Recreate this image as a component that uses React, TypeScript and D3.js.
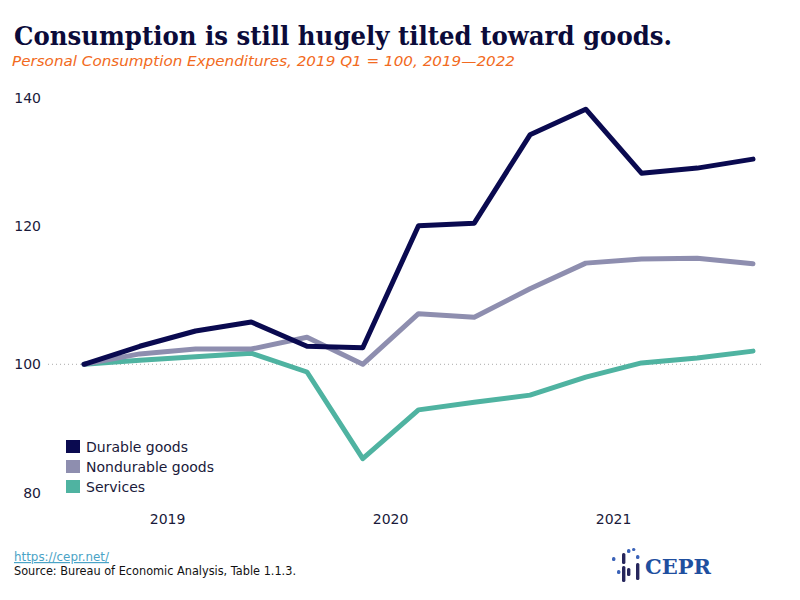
import * as d3 from 'd3'
import React, { useEffect, useRef } from 'react'

const quarters = [
  '2019 Q1', '2019 Q2', '2019 Q3', '2019 Q4',
  '2020 Q1', '2020 Q2', '2020 Q3', '2020 Q4',
  '2021 Q1', '2021 Q2', '2021 Q3', '2021 Q4',
  '2022 Q1',
]
const durable = [100, 102.6, 104.8, 106.1, 102.6, 102.4, 120.0, 120.4, 134.2, 138.2, 128.2, 129.0, 130.4]
const nondurable = [100, 101.5, 102.2, 102.2, 103.9, 100, 107.3, 106.8, 110.9, 114.6, 115.2, 115.3, 114.5]
const services = [100, 100.6, 101.1, 101.6, 98.8, 85.3, 92.9, 94.1, 95.2, 98.0, 100.2, 100.9, 101.9]
const seriesNames = ['Durable goods', 'Nondurable goods', 'Services']
const yTicks = [80, 100, 120, 140]
const years = ['2019', '2020', '2021']

const colors = ['#0a0a50', '#8e8eaf', '#4fb3a1']
const axisFont = 'DejaVu Sans, Verdana, sans-serif'

export default function App() {
  const ref = useRef<SVGSVGElement>(null)

  useEffect(() => {
    if (!ref.current) return
    const svg = d3.select(ref.current)
    svg.selectAll('*').remove()

    const x = d3.scaleLinear().domain([0, quarters.length - 1]).range([84, 753])
    // the value axis is drawn with slightly uneven gaps between its labels
    const y = d3.scaleLinear().domain([80, 100, 120, 140]).range([492.7, 364.3, 225.7, 97.7])

    // title block
    svg.append('text')
      .attr('x', 14).attr('y', 45)
      .attr('font-family', 'DejaVu Serif, Georgia, serif')
      .attr('font-weight', 'bold')
      .attr('font-size', 26)
      .attr('fill', '#0b0b3a')
      .attr('textLength', 658)
      .attr('lengthAdjust', 'spacingAndGlyphs')
      .text('Consumption is still hugely tilted toward goods.')

    svg.append('text')
      .attr('x', 12).attr('y', 66)
      .attr('font-family', axisFont)
      .attr('font-style', 'italic')
      .attr('font-size', 14)
      .attr('fill', '#f26a21')
      .attr('textLength', 503)
      .attr('lengthAdjust', 'spacingAndGlyphs')
      .text('Personal Consumption Expenditures, 2019 Q1 = 100, 2019\u20142022')

    // y labels
    svg.append('g')
      .selectAll('text')
      .data(yTicks)
      .join('text')
      .attr('x', 41)
      .attr('y', d => y(d))
      .attr('dy', '0.36em')
      .attr('text-anchor', 'end')
      .attr('font-family', axisFont)
      .attr('font-size', 14)
      .attr('fill', '#1a1a3a')
      .text(d => d)

    // baseline at 100
    svg.append('line')
      .attr('x1', 48).attr('x2', 762)
      .attr('y1', y(100)).attr('y2', y(100))
      .attr('stroke', '#aaaaaa')
      .attr('stroke-width', 1)
      .attr('stroke-dasharray', '1,3')

    // year labels centred on each year's quarters
    svg.append('g')
      .selectAll('text')
      .data(years)
      .join('text')
      .attr('x', (d, i) => x(i * 4 + 1.5))
      .attr('y', 524)
      .attr('text-anchor', 'middle')
      .attr('font-family', axisFont)
      .attr('font-size', 14)
      .attr('fill', '#1a1a3a')
      .text(d => d)

    const line = d3.line<number>()
      .x((d, i) => x(i))
      .y(d => y(d))

    const all = [services, nondurable, durable]
    const allColors = [colors[2], colors[1], colors[0]]
    svg.append('g')
      .selectAll('path')
      .data(all)
      .join('path')
      .attr('d', d => line(d))
      .attr('fill', 'none')
      .attr('stroke', (d, i) => allColors[i])
      .attr('stroke-width', 5)
      .attr('stroke-linejoin', 'round')
      .attr('stroke-linecap', 'round')

    // legend
    const legend = svg.append('g')
      .selectAll('g')
      .data(seriesNames)
      .join('g')
      .attr('transform', (d, i) => `translate(66,${440 + i * 20})`)
    legend.append('rect')
      .attr('width', 14).attr('height', 13)
      .attr('fill', (d, i) => colors[i])
    legend.append('text')
      .attr('x', 20).attr('y', 12)
      .attr('font-family', axisFont)
      .attr('font-size', 14)
      .attr('fill', '#1a1a3a')
      .text(d => d)

    // footer
    svg.append('text')
      .attr('x', 14).attr('y', 561)
      .attr('font-family', axisFont)
      .attr('font-size', 12)
      .attr('fill', '#4aa3c6')
      .attr('text-decoration', 'underline')
      .attr('textLength', 95)
      .attr('lengthAdjust', 'spacingAndGlyphs')
      .text('https://cepr.net/')
    svg.append('text')
      .attr('x', 14).attr('y', 575)
      .attr('font-family', axisFont)
      .attr('font-size', 12)
      .attr('fill', '#111111')
      .attr('textLength', 282)
      .attr('lengthAdjust', 'spacingAndGlyphs')
      .text('Source: Bureau of Economic Analysis, Table 1.1.3.')

    // CEPR logo: columns of dots and short rounded bars
    const logo = svg.append('g').attr('transform', 'translate(612,547)')
    const marks = [
      { x: 0, y: 10, h: 4, blue: true },
      { x: 5, y: 23, h: 4, blue: true },
      { x: 10, y: 6, h: 11, blue: false },
      { x: 10, y: 19, h: 16, blue: false },
      { x: 15, y: 2, h: 4, blue: true },
      { x: 15, y: 21, h: 8, blue: false },
      { x: 20, y: 1, h: 3, blue: true },
      { x: 24, y: 8, h: 4, blue: true },
      { x: 24, y: 16, h: 17, blue: false },
    ]
    logo.selectAll('rect')
      .data(marks)
      .join('rect')
      .attr('x', d => d.x).attr('y', d => d.y)
      .attr('width', 3.4).attr('height', d => d.h)
      .attr('rx', 1.5)
      .attr('fill', d => (d.blue ? '#3a62b8' : '#26265c'))
    svg.append('text')
      .attr('x', 645).attr('y', 574)
      .attr('font-family', 'DejaVu Serif, Georgia, serif')
      .attr('font-weight', 'bold')
      .attr('font-size', 21)
      .attr('fill', '#1f4f9f')
      .attr('textLength', 66)
      .attr('lengthAdjust', 'spacingAndGlyphs')
      .text('CEPR')
  }, [])

  return (
    <div style={{ position: 'absolute', left: 0, top: 0 }}>
      <svg ref={ref} width={800} height={600} style={{ display: 'block', background: '#fff' }} />
    </div>
  )
}
